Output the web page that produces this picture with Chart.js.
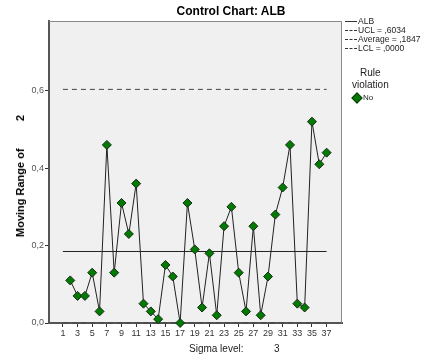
<!DOCTYPE html>
<html>
<head>
<meta charset="utf-8">
<script src="https://cdn.jsdelivr.net/npm/chart.js@4"></script>
<style>
  body { margin: 0; background: #fff; font-family: "Liberation Sans", Arial, sans-serif; }
  #wrap { position: relative; width: 422px; height: 357px; }
  canvas { position: absolute; left: 0; top: 0; }
  .txt { position: absolute; white-space: nowrap; color: #000; }
  #title { left: 0; width: 462px; top: 4px; text-align: center; font-size: 12px; font-weight: bold; }
  #ytitle { left: 20px; top: 176px; font-size: 11px; font-weight: bold; transform: translate(-50%, -50%) rotate(-90deg); }
  #xtitle { left: 189px; top: 343px; font-size: 10px; color: #222; }
  .leg { left: 345px; font-size: 8.5px; color: #222; }
  .leg i { display: inline-block; width: 12px; height: 0; vertical-align: middle; margin-right: 1px; }
  #rule { left: 352px; top: 67px; font-size: 10px; text-align: center; line-height: 12px; color: #222; }
  #no { left: 353px; top: 93px; font-size: 8px; color: #222; }
  #no b { display: inline-block; width: 6px; height: 6px; background: #007a00; border: 1px solid #0b3a0b; transform: rotate(45deg); margin-right: 2px; vertical-align: middle; }
</style>
</head>
<body>
<div id="wrap">
  <canvas id="chart" width="422" height="357"></canvas>
  <div id="title" class="txt">Control Chart: ALB</div>
  <div id="ytitle" class="txt">Moving Range of&nbsp;&nbsp;&nbsp;&nbsp;&nbsp;&nbsp;&nbsp;&nbsp;&nbsp;2</div>
  <div id="xtitle" class="txt">Sigma level:&nbsp;&nbsp;&nbsp;&nbsp;&nbsp;&nbsp;&nbsp;&nbsp;&nbsp;&nbsp;&nbsp;3</div>
  <div class="txt leg" style="top:16px"><i style="border-top:1px solid #333"></i>ALB</div>
  <div class="txt leg" style="top:25px"><i style="border-top:1px dashed #333"></i>UCL = ,6034</div>
  <div class="txt leg" style="top:34px"><i style="border-top:1px dashed #333"></i>Average = ,1847</div>
  <div class="txt leg" style="top:43px"><i style="border-top:1px dashed #333"></i>LCL = ,0000</div>
  <div id="rule" class="txt">Rule<br>violation</div>
  <div id="no" class="txt"><b></b>No</div>
</div>
<script>
// valores
const sampleNums = [2, 3, 4, 5, 6, 7, 8, 9, 10, 11, 12, 13, 14, 15, 16, 17, 18, 19,
  20, 21, 22, 23, 24, 25, 26, 27, 28, 29, 30, 31, 32, 33, 34, 35, 36, 37];
const movingRange = [0.11, 0.07, 0.07, 0.13, 0.03, 0.46, 0.13, 0.31, 0.23, 0.36, 0.05, 0.03,
  0.01, 0.15, 0.12, 0.00, 0.31, 0.19, 0.04, 0.18, 0.02, 0.25, 0.30, 0.13, 0.03, 0.25, 0.02,
  0.12, 0.28, 0.35, 0.46, 0.05, 0.04, 0.52, 0.41, 0.44];
const limitSpan = [1, 37];
const ucl = 0.6034;
const average = 0.1847;
const lcl = 0.0;
const xTicks = [1, 3, 5, 7, 9, 11, 13, 15, 17, 19, 21, 23, 25, 27, 29, 31, 33, 35, 37];
const yTicks = [0, 0.2, 0.4, 0.6];

const limitLine = v => limitSpan.map(x => ({ x: x, y: v }));

// fondo y marco del área de trazado
const plotFrame = {
  id: 'plotFrame',
  beforeDraw(chart) {
    const a = chart.chartArea, c = chart.ctx;
    c.save();
    c.fillStyle = '#f0f0f0';
    c.fillRect(a.left, a.top, a.right - a.left, a.bottom - a.top);
    c.restore();
  },
  afterDraw(chart) {
    const a = chart.chartArea, c = chart.ctx;
    c.save();
    c.strokeStyle = '#8a8a8a';
    c.lineWidth = 1;
    c.beginPath();
    c.moveTo(a.left, a.top + 0.5);
    c.lineTo(a.right - 0.5, a.top + 0.5);
    c.lineTo(a.right - 0.5, a.bottom);
    c.stroke();
    c.restore();
  }
};

new Chart(document.getElementById('chart'), {
  type: 'line',
  data: {
    datasets: [
      {
        label: 'ALB',
        data: sampleNums.map((x, i) => ({ x: x, y: movingRange[i] })),
        borderColor: '#222',
        borderWidth: 1,
        pointStyle: 'rectRot',
        pointRadius: 4.5,
        pointBackgroundColor: '#007a00',
        pointBorderColor: '#1a2a1a',
        pointBorderWidth: 1,
        order: 0
      },
      {
        label: 'UCL',
        data: limitLine(ucl),
        borderColor: '#444',
        borderWidth: 1,
        borderDash: [5, 4],
        pointRadius: 0,
        order: 1
      },
      {
        label: 'Average',
        data: limitLine(average),
        borderColor: '#222',
        borderWidth: 1,
        pointRadius: 0,
        order: 1
      },
      {
        label: 'LCL',
        data: limitLine(lcl),
        borderColor: '#444',
        borderWidth: 1,
        borderDash: [5, 4],
        pointRadius: 0,
        order: 1
      }
    ]
  },
  options: {
    responsive: false,
    animation: false,
    clip: false,
    layout: { padding: { left: 0, right: 80, top: 21, bottom: 0 } },
    plugins: { legend: { display: false }, tooltip: { enabled: false } },
    scales: {
      x: {
        type: 'linear',
        min: -0.9,
        max: 39.1,
        afterBuildTicks: s => { s.ticks = xTicks.map(v => ({ value: v })); },
        afterFit: s => { s.height = 34; },
        grid: { drawOnChartArea: false, drawTicks: true, tickLength: 4, color: '#333' },
        border: { color: '#555', width: 2 },
        ticks: { color: '#333', font: { family: 'Liberation Sans', size: 9 }, padding: 1, maxRotation: 0, autoSkip: false }
      },
      y: {
        min: 0,
        max: 0.78,
        afterBuildTicks: s => { s.ticks = yTicks.map(v => ({ value: v })); },
        afterFit: s => { s.width = 49; },
        grid: { drawOnChartArea: false, drawTicks: true, tickLength: 4, color: '#333' },
        border: { color: '#555', width: 2 },
        ticks: {
          color: '#555',
          font: { family: 'Liberation Sans', size: 9 },
          padding: 1,
          callback: v => v.toFixed(1).replace('.', ',')
        }
      }
    }
  },
  plugins: [plotFrame]
});
</script>
</body>
</html>
